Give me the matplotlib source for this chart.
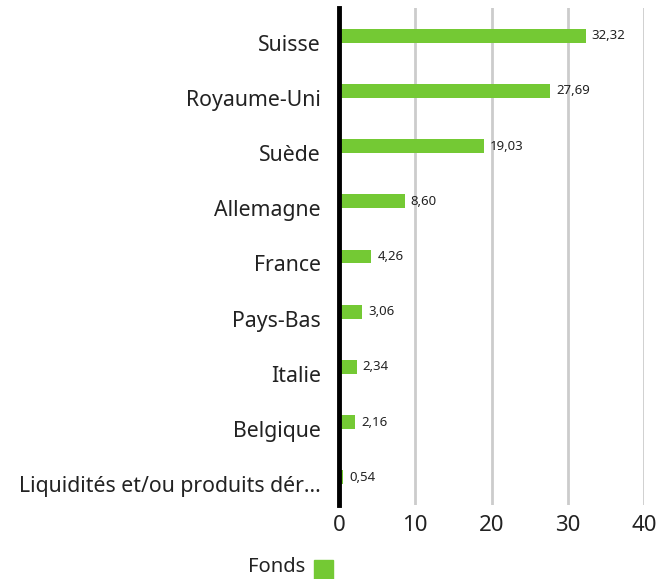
import matplotlib.pyplot as plt
import matplotlib.transforms as mtransforms

plt.rcParams['font.family'] = ['Noto Sans', 'DejaVu Sans']

# Données
pays = ['Suisse', 'Royaume-Uni', 'Suède', 'Allemagne', 'France', 'Pays-Bas',
        'Italie', 'Belgique', 'Liquidités et/ou produits dér...']
valeurs = [32.32, 27.69, 19.03, 8.60, 4.26, 3.06, 2.34, 2.16, 0.54]
ticks_x = [0, 10, 20, 30, 40]

vert = '#74c934'

fig = plt.figure(figsize=(6.58, 5.79), dpi=100)
ax = fig.add_axes([0.515, 0.128, 0.464, 0.858])

pos = list(range(len(pays)))
ax.barh(pos, valeurs, height=0.25, color=vert, zorder=3)
for p, v in zip(pos, valeurs):
    ax.text(v + 0.8, p, f'{v:.2f}'.replace('.', ','), va='center', ha='left',
            fontsize=9.5, color='#222222', zorder=4)

ax.set_ylim(len(pays) - 0.5, -0.5)
ax.set_xlim(0, 40)
ax.set_yticks(pos)
ax.set_yticklabels(pays, fontsize=15.3, color='#222222')
ax.set_xticks(ticks_x)
ax.set_xticklabels([str(t) for t in ticks_x], fontsize=16, color='#222222')
ax.tick_params(axis='both', length=0)
ax.tick_params(axis='y', pad=13)
ax.tick_params(axis='x', pad=7)

# les libellés sont un peu plus bas que les barres
decal = mtransforms.ScaledTranslation(0, -7 / 100, fig.dpi_scale_trans)
for lab in ax.get_yticklabels():
    lab.set_transform(lab.get_transform() + decal)

ax.grid(axis='x', color='#cccccc', linewidth=2, zorder=0)
for s in ['top', 'right', 'bottom']:
    ax.spines[s].set_visible(False)
ax.spines['left'].set_linewidth(3.5)
ax.spines['left'].set_color('black')
ax.spines['left'].set_zorder(5)

# Légende
fig.text(305 / 658, 1 - 567 / 579, 'Fonds', ha='right', va='center',
         fontsize=14.5, color='#222222')
fig.patches.append(plt.Rectangle((314 / 658, 0), 19 / 658, 19 / 579,
                                 transform=fig.transFigure, color=vert))

fig.savefig('out.png', dpi=100)
